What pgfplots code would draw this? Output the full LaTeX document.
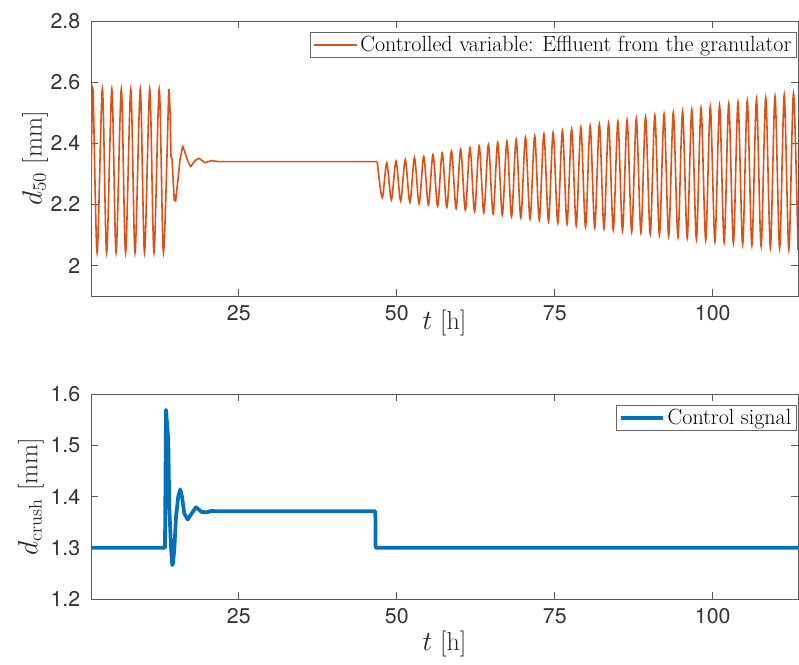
\documentclass[border=0pt]{standalone}
\usepackage{fontspec}
\newfontfamily\heros{TeX Gyre Heros}
\usepackage{pgfplots}
\pgfplotsset{compat=1.18}
\definecolor{mlorange}{RGB}{217,83,25}
\definecolor{mlblue}{RGB}{0,114,189}

\pgfplotsset{
 mlstyle/.style={
  scale only axis, width=530.25pt,
  xmin=1.6, xmax=113.5,
  xtick={25,50,75,100},
  tick align=inside, major tick length=5pt,
  axis line style={black!65, line width=0.6pt},
  every tick/.style={black!65, line width=0.6pt},
  ticklabel style={font=\fontsize{16}{18}\selectfont\heros, text=black!80},
  /pgf/number format/assume math mode=true,
  yticklabel style={xshift=-4.5pt},
  xticklabel style={yshift=-3.7pt},
  label style={font=\fontsize{19.5}{22}\selectfont, text=black!85},
  legend style={font=\fontsize{16.5}{19}\selectfont, draw=black!60, line width=0.5pt,
    at={(1,1)}, anchor=north east, xshift=-0.75pt, yshift=-8.25pt,
    inner xsep=2pt, inner ysep=1pt},
  legend cell align=left,
  legend image code/.code={\draw[##1] (0pt,0pt) -- (32pt,0pt);},
 }
}

\begin{document}
\begin{tikzpicture}
\useasboundingbox (0,0) rectangle (599.25pt,498pt);

\begin{axis}[mlstyle, at={(68.25pt,276pt)}, anchor=south west, height=206.25pt,
  ymin=1.9, ymax=2.8, ytick={2,2.2,2.4,2.6,2.8},
  xlabel={$t$ [h]}, ylabel={$d_{50}$ [mm]},
  xlabel style={at={(axis description cs:0.5,-0.1)}, anchor=center},
  ylabel style={at={(axis description cs:-0.079,0.5)}, anchor=center}]
\addplot[mlorange, line width=1.2pt, smooth] coordinates {
(1.45,2.10) (1.6,2.25) (1.90,2.577) (2.57,2.042) (3.40,2.577) (4.07,2.042) (4.90,2.577)
(5.57,2.042) (6.40,2.577) (7.07,2.042) (7.90,2.577) (8.57,2.042) (9.40,2.577)
(10.07,2.042) (10.90,2.577) (11.57,2.042) (12.40,2.577) (13.07,2.042) (13.90,2.577)
};
\addlegendentry{Controlled variable: Effluent from the granulator}
\addplot[mlorange, line width=1.2pt, line join=round, forget plot] coordinates {
(13.90,2.577) (14.00,2.56) (14.10,2.51) (14.26,2.356) (14.42,2.35) (14.78,2.212)
(14.89,2.23) (15.00,2.21) (15.41,2.29) (15.68,2.345) (16.11,2.391) (16.47,2.37)
(16.94,2.34) (17.37,2.323) (18.05,2.343) (18.68,2.351) (19.63,2.336) (20.69,2.343)
(21.70,2.340) (46.90,2.340)
};
\addplot[mlorange, line width=1.2pt, smooth, forget plot] coordinates {
(46.9,2.340) (47.69,2.222)
(48.41,2.335) (49.14,2.215) (49.87,2.341) (50.61,2.211) (51.34,2.346) (52.07,2.207)
(52.80,2.352) (53.53,2.202) (54.26,2.357) (55.00,2.198) (55.73,2.363) (56.46,2.194)
(57.19,2.368) (57.92,2.190) (58.65,2.374) (59.39,2.186) (60.11,2.380) (60.85,2.181)
(61.58,2.385) (62.31,2.177) (63.04,2.391) (63.77,2.173) (64.50,2.396) (65.24,2.169)
(65.97,2.402) (66.70,2.165) (67.43,2.407) (68.16,2.160) (68.89,2.413) (69.63,2.156)
(70.36,2.419) (71.09,2.152) (71.82,2.424) (72.55,2.148) (73.28,2.430) (74.01,2.144)
(74.74,2.435) (75.48,2.139) (76.21,2.441) (76.94,2.135) (77.67,2.446) (78.40,2.131)
(79.13,2.452) (79.87,2.127) (80.60,2.457) (81.33,2.124) (82.06,2.462) (82.79,2.120)
(83.52,2.466) (84.26,2.117) (84.99,2.471) (85.72,2.113) (86.45,2.476) (87.18,2.110)
(87.91,2.481) (88.64,2.107) (89.37,2.486) (90.11,2.103) (90.84,2.491) (91.57,2.100)
(92.30,2.495) (93.03,2.096) (93.76,2.500) (94.50,2.093) (95.23,2.505) (95.96,2.090)
(96.69,2.510) (97.42,2.086) (98.15,2.515) (98.89,2.083) (99.62,2.520) (100.35,2.079)
(101.08,2.524) (101.81,2.076) (102.54,2.529) (103.27,2.073) (104.00,2.534) (104.74,2.069)
(105.47,2.539) (106.20,2.066) (106.93,2.544) (107.66,2.063) (108.39,2.549) (109.13,2.059)
(109.86,2.553) (110.59,2.056) (111.32,2.558) (112.05,2.052) (112.78,2.563) (113.51,2.049)
};
\end{axis}

\begin{axis}[mlstyle, at={(68.25pt,48.75pt)}, anchor=south west, height=153.75pt,
  ymin=1.2, ymax=1.6, ytick={1.2,1.3,1.4,1.5,1.6},
  xlabel={$t$ [h]}, ylabel={$d_{\mathrm{crush}}$ [mm]},
  xlabel style={at={(axis description cs:0.5,-0.22)}, anchor=center},
  ylabel style={at={(axis description cs:-0.085,0.5)}, anchor=center}]
\addplot[mlblue, line width=2.8pt, line join=round] coordinates {
(1.0,1.30) (13.31,1.30) (13.47,1.569) (13.83,1.51) (13.99,1.38) (14.26,1.302)
(14.46,1.266) (14.57,1.27) (14.78,1.296) (15.05,1.36) (15.41,1.40) (15.73,1.414)
(16.00,1.40) (16.36,1.367) (16.90,1.355) (17.53,1.367) (18.21,1.379) (19.11,1.370)
(19.90,1.369) (20.69,1.372) (21.50,1.371) (46.60,1.371) (46.65,1.30) (114.0,1.30)
};
\addlegendentry{Control signal}
\end{axis}
\end{tikzpicture}
\end{document}
